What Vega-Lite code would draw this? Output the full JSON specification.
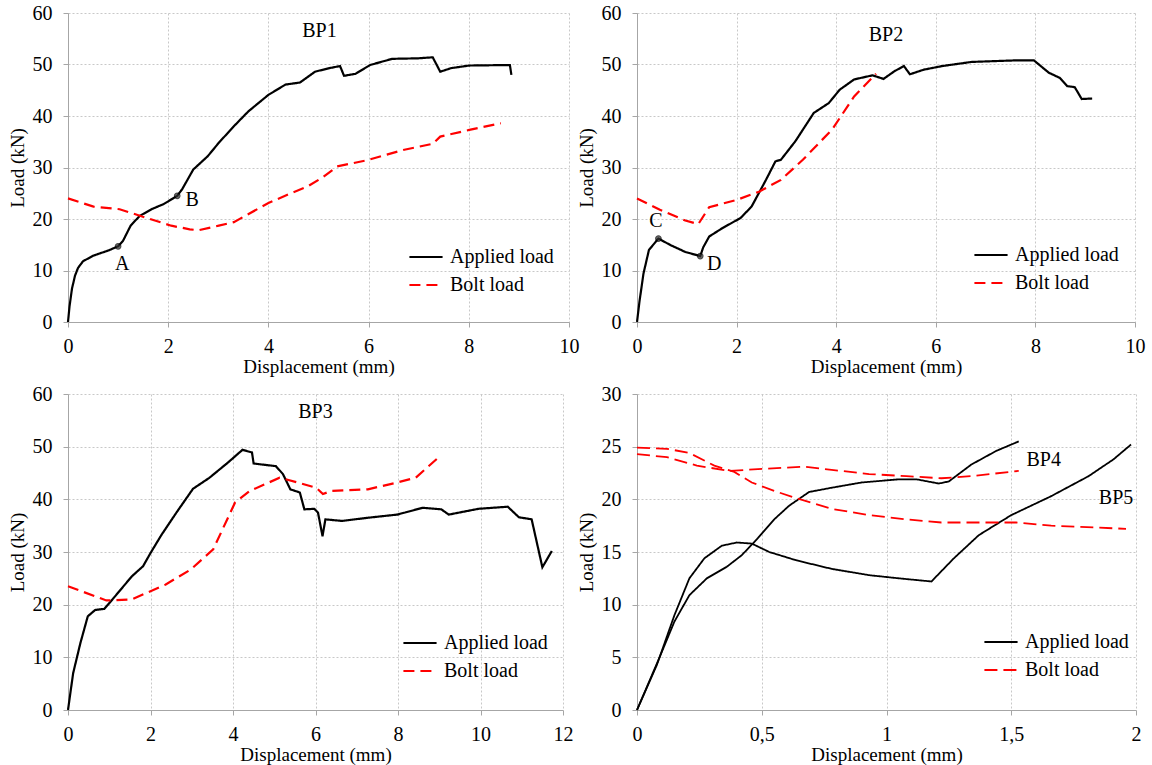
{
  "$schema": "https://vega.github.io/schema/vega-lite/v6.json",
  "background": "white",
  "padding": {"left": 8, "top": 3, "right": 5, "bottom": 3},
  "config": {
    "font": "Liberation Serif",
    "view": {"stroke": null},
    "axis": {
      "labelFont": "Liberation Serif", "labelFontSize": 20, "labelColor": "#000",
      "titleFont": "Liberation Serif", "titleFontSize": 19, "titleFontWeight": "normal", "titleColor": "#000",
      "domainColor": "#a6a6a6", "tickColor": "#a6a6a6", "tickSize": 5, "labelFlush": false,
      "gridColor": "#c8c8c8", "gridDash": [2, 2]
    },
    "axisX": {"titlePadding": 1, "labelPadding": 9},
    "axisY": {"titlePadding": 5, "labelPadding": 11},
    "legend": {
      "labelFont": "Liberation Serif", "labelFontSize": 20, "labelColor": "#000",
      "symbolType": "stroke", "symbolSize": 1100, "symbolStrokeWidth": 2.2, "rowPadding": -2, "labelOffset": 6
    },
    "text": {"font": "Liberation Serif", "color": "#000"}
  },
  "datasets": {
    "bp1": [
      {"s": "Applied load", "x": 0, "y": 0}, {"s": "Applied load", "x": 0.03, "y": 3}, {"s": "Applied load", "x": 0.08, "y": 6.5}, {"s": "Applied load", "x": 0.14, "y": 9}, {"s": "Applied load", "x": 0.2, "y": 10.5}, {"s": "Applied load", "x": 0.3, "y": 11.8}, {"s": "Applied load", "x": 0.51, "y": 12.9}, {"s": "Applied load", "x": 0.81, "y": 13.9}, {"s": "Applied load", "x": 1.0, "y": 14.7}, {"s": "Applied load", "x": 1.1, "y": 15.8}, {"s": "Applied load", "x": 1.25, "y": 18.7}, {"s": "Applied load", "x": 1.43, "y": 20.6}, {"s": "Applied load", "x": 1.69, "y": 22.0}, {"s": "Applied load", "x": 1.91, "y": 22.9}, {"s": "Applied load", "x": 2.18, "y": 24.5}, {"s": "Applied load", "x": 2.28, "y": 25.8}, {"s": "Applied load", "x": 2.5, "y": 29.6}, {"s": "Applied load", "x": 2.79, "y": 32.2}, {"s": "Applied load", "x": 3.01, "y": 34.8}, {"s": "Applied load", "x": 3.31, "y": 38.0}, {"s": "Applied load", "x": 3.6, "y": 40.9}, {"s": "Applied load", "x": 4.0, "y": 44.1}, {"s": "Applied load", "x": 4.34, "y": 46.1}, {"s": "Applied load", "x": 4.63, "y": 46.5}, {"s": "Applied load", "x": 4.93, "y": 48.6}, {"s": "Applied load", "x": 5.22, "y": 49.3}, {"s": "Applied load", "x": 5.43, "y": 49.7}, {"s": "Applied load", "x": 5.51, "y": 47.8}, {"s": "Applied load", "x": 5.74, "y": 48.2}, {"s": "Applied load", "x": 6.03, "y": 49.9}, {"s": "Applied load", "x": 6.47, "y": 51.1}, {"s": "Applied load", "x": 6.99, "y": 51.2}, {"s": "Applied load", "x": 7.28, "y": 51.4}, {"s": "Applied load", "x": 7.43, "y": 48.6}, {"s": "Applied load", "x": 7.65, "y": 49.3}, {"s": "Applied load", "x": 8.01, "y": 49.8}, {"s": "Applied load", "x": 8.82, "y": 49.9}, {"s": "Applied load", "x": 8.85, "y": 48.0},
      {"s": "Bolt load", "x": 0, "y": 24.0}, {"s": "Bolt load", "x": 0.51, "y": 22.4}, {"s": "Bolt load", "x": 1.03, "y": 21.9}, {"s": "Bolt load", "x": 1.54, "y": 20.3}, {"s": "Bolt load", "x": 2.06, "y": 18.7}, {"s": "Bolt load", "x": 2.43, "y": 18.0}, {"s": "Bolt load", "x": 2.6, "y": 17.8}, {"s": "Bolt load", "x": 3.01, "y": 18.7}, {"s": "Bolt load", "x": 3.31, "y": 19.4}, {"s": "Bolt load", "x": 4.0, "y": 23.1}, {"s": "Bolt load", "x": 4.4, "y": 24.8}, {"s": "Bolt load", "x": 4.78, "y": 26.3}, {"s": "Bolt load", "x": 5.1, "y": 28.2}, {"s": "Bolt load", "x": 5.37, "y": 30.2}, {"s": "Bolt load", "x": 5.96, "y": 31.4}, {"s": "Bolt load", "x": 6.69, "y": 33.4}, {"s": "Bolt load", "x": 7.28, "y": 34.6}, {"s": "Bolt load", "x": 7.43, "y": 36.0}, {"s": "Bolt load", "x": 8.01, "y": 37.3}, {"s": "Bolt load", "x": 8.64, "y": 38.6}
    ],
    "bp2": [
      {"s": "Applied load", "x": 0, "y": 0}, {"s": "Applied load", "x": 0.05, "y": 4}, {"s": "Applied load", "x": 0.13, "y": 9.4}, {"s": "Applied load", "x": 0.24, "y": 14.0}, {"s": "Applied load", "x": 0.43, "y": 16.2}, {"s": "Applied load", "x": 0.68, "y": 14.9}, {"s": "Applied load", "x": 0.97, "y": 13.6}, {"s": "Applied load", "x": 1.27, "y": 12.8}, {"s": "Applied load", "x": 1.33, "y": 14.5}, {"s": "Applied load", "x": 1.45, "y": 16.6}, {"s": "Applied load", "x": 1.71, "y": 18.2}, {"s": "Applied load", "x": 2.08, "y": 20.2}, {"s": "Applied load", "x": 2.3, "y": 22.4}, {"s": "Applied load", "x": 2.59, "y": 27.6}, {"s": "Applied load", "x": 2.78, "y": 31.2}, {"s": "Applied load", "x": 2.89, "y": 31.5}, {"s": "Applied load", "x": 3.18, "y": 35.1}, {"s": "Applied load", "x": 3.55, "y": 40.6}, {"s": "Applied load", "x": 3.85, "y": 42.5}, {"s": "Applied load", "x": 4.07, "y": 45.1}, {"s": "Applied load", "x": 4.36, "y": 47.1}, {"s": "Applied load", "x": 4.73, "y": 47.9}, {"s": "Applied load", "x": 4.95, "y": 47.2}, {"s": "Applied load", "x": 5.17, "y": 48.7}, {"s": "Applied load", "x": 5.36, "y": 49.7}, {"s": "Applied load", "x": 5.48, "y": 48.1}, {"s": "Applied load", "x": 5.76, "y": 49.0}, {"s": "Applied load", "x": 6.13, "y": 49.7}, {"s": "Applied load", "x": 6.72, "y": 50.5}, {"s": "Applied load", "x": 7.6, "y": 50.8}, {"s": "Applied load", "x": 7.97, "y": 50.8}, {"s": "Applied load", "x": 8.27, "y": 48.4}, {"s": "Applied load", "x": 8.49, "y": 47.4}, {"s": "Applied load", "x": 8.64, "y": 45.8}, {"s": "Applied load", "x": 8.79, "y": 45.6}, {"s": "Applied load", "x": 8.93, "y": 43.3}, {"s": "Applied load", "x": 9.14, "y": 43.4},
      {"s": "Bolt load", "x": 0, "y": 24.0}, {"s": "Bolt load", "x": 0.46, "y": 21.8}, {"s": "Bolt load", "x": 0.97, "y": 19.7}, {"s": "Bolt load", "x": 1.23, "y": 19.0}, {"s": "Bolt load", "x": 1.45, "y": 22.3}, {"s": "Bolt load", "x": 2.0, "y": 23.7}, {"s": "Bolt load", "x": 2.45, "y": 25.3}, {"s": "Bolt load", "x": 2.89, "y": 27.6}, {"s": "Bolt load", "x": 3.33, "y": 31.5}, {"s": "Bolt load", "x": 3.92, "y": 37.4}, {"s": "Bolt load", "x": 4.36, "y": 43.8}, {"s": "Bolt load", "x": 4.8, "y": 48.2}
    ],
    "bp3": [
      {"s": "Applied load", "x": 0, "y": 0}, {"s": "Applied load", "x": 0.125, "y": 7.0}, {"s": "Applied load", "x": 0.3, "y": 12.7}, {"s": "Applied load", "x": 0.48, "y": 17.8}, {"s": "Applied load", "x": 0.66, "y": 19.0}, {"s": "Applied load", "x": 0.88, "y": 19.2}, {"s": "Applied load", "x": 1.11, "y": 21.3}, {"s": "Applied load", "x": 1.55, "y": 25.4}, {"s": "Applied load", "x": 1.82, "y": 27.3}, {"s": "Applied load", "x": 2.0, "y": 29.8}, {"s": "Applied load", "x": 2.27, "y": 33.3}, {"s": "Applied load", "x": 2.63, "y": 37.5}, {"s": "Applied load", "x": 3.03, "y": 42.0}, {"s": "Applied load", "x": 3.43, "y": 44.1}, {"s": "Applied load", "x": 3.88, "y": 47.0}, {"s": "Applied load", "x": 4.23, "y": 49.4}, {"s": "Applied load", "x": 4.46, "y": 48.9}, {"s": "Applied load", "x": 4.5, "y": 46.8}, {"s": "Applied load", "x": 5.04, "y": 46.3}, {"s": "Applied load", "x": 5.21, "y": 44.8}, {"s": "Applied load", "x": 5.39, "y": 41.9}, {"s": "Applied load", "x": 5.62, "y": 41.3}, {"s": "Applied load", "x": 5.73, "y": 38.1}, {"s": "Applied load", "x": 5.97, "y": 38.2}, {"s": "Applied load", "x": 6.06, "y": 37.5}, {"s": "Applied load", "x": 6.17, "y": 33.0}, {"s": "Applied load", "x": 6.24, "y": 36.2}, {"s": "Applied load", "x": 6.64, "y": 35.9}, {"s": "Applied load", "x": 7.27, "y": 36.5}, {"s": "Applied load", "x": 7.98, "y": 37.1}, {"s": "Applied load", "x": 8.6, "y": 38.4}, {"s": "Applied load", "x": 9.05, "y": 38.1}, {"s": "Applied load", "x": 9.23, "y": 37.1}, {"s": "Applied load", "x": 9.95, "y": 38.2}, {"s": "Applied load", "x": 10.66, "y": 38.6}, {"s": "Applied load", "x": 10.93, "y": 36.6}, {"s": "Applied load", "x": 11.24, "y": 36.2}, {"s": "Applied load", "x": 11.5, "y": 27.1}, {"s": "Applied load", "x": 11.73, "y": 30.2},
      {"s": "Bolt load", "x": 0, "y": 23.5}, {"s": "Bolt load", "x": 0.93, "y": 20.8}, {"s": "Bolt load", "x": 1.55, "y": 21.0}, {"s": "Bolt load", "x": 2.36, "y": 23.8}, {"s": "Bolt load", "x": 2.98, "y": 26.7}, {"s": "Bolt load", "x": 3.52, "y": 30.5}, {"s": "Bolt load", "x": 4.05, "y": 39.4}, {"s": "Bolt load", "x": 4.41, "y": 41.6}, {"s": "Bolt load", "x": 5.13, "y": 44.1}, {"s": "Bolt load", "x": 5.57, "y": 43.2}, {"s": "Bolt load", "x": 6.02, "y": 42.2}, {"s": "Bolt load", "x": 6.18, "y": 41.0}, {"s": "Bolt load", "x": 6.38, "y": 41.6}, {"s": "Bolt load", "x": 7.27, "y": 41.9}, {"s": "Bolt load", "x": 7.98, "y": 43.2}, {"s": "Bolt load", "x": 8.43, "y": 44.1}, {"s": "Bolt load", "x": 9.03, "y": 48.3}
    ],
    "bp45": [
      {"c": "BP4a", "s": "Applied load", "x": 0, "y": 0}, {"c": "BP4a", "s": "Applied load", "x": 0.094, "y": 5.2}, {"c": "BP4a", "s": "Applied load", "x": 0.15, "y": 8.4}, {"c": "BP4a", "s": "Applied load", "x": 0.21, "y": 10.9}, {"c": "BP4a", "s": "Applied load", "x": 0.28, "y": 12.5}, {"c": "BP4a", "s": "Applied load", "x": 0.36, "y": 13.6}, {"c": "BP4a", "s": "Applied load", "x": 0.42, "y": 14.7}, {"c": "BP4a", "s": "Applied load", "x": 0.48, "y": 16.2}, {"c": "BP4a", "s": "Applied load", "x": 0.55, "y": 18.1}, {"c": "BP4a", "s": "Applied load", "x": 0.61, "y": 19.4}, {"c": "BP4a", "s": "Applied load", "x": 0.69, "y": 20.7}, {"c": "BP4a", "s": "Applied load", "x": 0.78, "y": 21.1}, {"c": "BP4a", "s": "Applied load", "x": 0.9, "y": 21.6}, {"c": "BP4a", "s": "Applied load", "x": 1.05, "y": 21.9}, {"c": "BP4a", "s": "Applied load", "x": 1.12, "y": 21.9}, {"c": "BP4a", "s": "Applied load", "x": 1.21, "y": 21.5}, {"c": "BP4a", "s": "Applied load", "x": 1.25, "y": 21.7}, {"c": "BP4a", "s": "Applied load", "x": 1.34, "y": 23.3}, {"c": "BP4a", "s": "Applied load", "x": 1.44, "y": 24.6}, {"c": "BP4a", "s": "Applied load", "x": 1.53, "y": 25.5},
      {"c": "BP5a", "s": "Applied load", "x": 0, "y": 0}, {"c": "BP5a", "s": "Applied load", "x": 0.08, "y": 4.3}, {"c": "BP5a", "s": "Applied load", "x": 0.15, "y": 9.0}, {"c": "BP5a", "s": "Applied load", "x": 0.21, "y": 12.5}, {"c": "BP5a", "s": "Applied load", "x": 0.27, "y": 14.4}, {"c": "BP5a", "s": "Applied load", "x": 0.34, "y": 15.6}, {"c": "BP5a", "s": "Applied load", "x": 0.4, "y": 15.9}, {"c": "BP5a", "s": "Applied load", "x": 0.46, "y": 15.8}, {"c": "BP5a", "s": "Applied load", "x": 0.53, "y": 15.0}, {"c": "BP5a", "s": "Applied load", "x": 0.64, "y": 14.2}, {"c": "BP5a", "s": "Applied load", "x": 0.78, "y": 13.4}, {"c": "BP5a", "s": "Applied load", "x": 0.93, "y": 12.8}, {"c": "BP5a", "s": "Applied load", "x": 1.05, "y": 12.5}, {"c": "BP5a", "s": "Applied load", "x": 1.18, "y": 12.2}, {"c": "BP5a", "s": "Applied load", "x": 1.27, "y": 14.4}, {"c": "BP5a", "s": "Applied load", "x": 1.37, "y": 16.6}, {"c": "BP5a", "s": "Applied load", "x": 1.5, "y": 18.5}, {"c": "BP5a", "s": "Applied load", "x": 1.66, "y": 20.3}, {"c": "BP5a", "s": "Applied load", "x": 1.81, "y": 22.2}, {"c": "BP5a", "s": "Applied load", "x": 1.91, "y": 23.8}, {"c": "BP5a", "s": "Applied load", "x": 1.98, "y": 25.2},
      {"c": "BP5b", "s": "Bolt load", "x": 0, "y": 24.9}, {"c": "BP5b", "s": "Bolt load", "x": 0.12, "y": 24.8}, {"c": "BP5b", "s": "Bolt load", "x": 0.21, "y": 24.4}, {"c": "BP5b", "s": "Bolt load", "x": 0.31, "y": 23.2}, {"c": "BP5b", "s": "Bolt load", "x": 0.39, "y": 22.6}, {"c": "BP5b", "s": "Bolt load", "x": 0.46, "y": 21.6}, {"c": "BP5b", "s": "Bolt load", "x": 0.55, "y": 20.8}, {"c": "BP5b", "s": "Bolt load", "x": 0.64, "y": 20.1}, {"c": "BP5b", "s": "Bolt load", "x": 0.78, "y": 19.1}, {"c": "BP5b", "s": "Bolt load", "x": 0.93, "y": 18.5}, {"c": "BP5b", "s": "Bolt load", "x": 1.08, "y": 18.1}, {"c": "BP5b", "s": "Bolt load", "x": 1.22, "y": 17.8}, {"c": "BP5b", "s": "Bolt load", "x": 1.37, "y": 17.8}, {"c": "BP5b", "s": "Bolt load", "x": 1.52, "y": 17.8}, {"c": "BP5b", "s": "Bolt load", "x": 1.66, "y": 17.5}, {"c": "BP5b", "s": "Bolt load", "x": 1.96, "y": 17.2},
      {"c": "BP4b", "s": "Bolt load", "x": 0, "y": 24.3}, {"c": "BP4b", "s": "Bolt load", "x": 0.12, "y": 24.0}, {"c": "BP4b", "s": "Bolt load", "x": 0.24, "y": 23.2}, {"c": "BP4b", "s": "Bolt load", "x": 0.37, "y": 22.7}, {"c": "BP4b", "s": "Bolt load", "x": 0.51, "y": 22.9}, {"c": "BP4b", "s": "Bolt load", "x": 0.67, "y": 23.1}, {"c": "BP4b", "s": "Bolt load", "x": 0.78, "y": 22.8}, {"c": "BP4b", "s": "Bolt load", "x": 0.93, "y": 22.4}, {"c": "BP4b", "s": "Bolt load", "x": 1.08, "y": 22.2}, {"c": "BP4b", "s": "Bolt load", "x": 1.22, "y": 22.0}, {"c": "BP4b", "s": "Bolt load", "x": 1.34, "y": 22.2}, {"c": "BP4b", "s": "Bolt load", "x": 1.53, "y": 22.7}
    ],
    "marks12": [
      {"p": "BP1", "x": 1.0, "y": 14.7, "t": "A", "tx": 1.08, "ty": 11.3},
      {"p": "BP1", "x": 2.18, "y": 24.5, "t": "B", "tx": 2.48, "ty": 23.7},
      {"p": "BP2", "x": 0.43, "y": 16.2, "t": "C", "tx": 0.38, "ty": 19.6},
      {"p": "BP2", "x": 1.27, "y": 12.8, "t": "D", "tx": 1.55, "ty": 11.3}
    ],
    "titles": [
      {"p": "BP1", "x": 5.02, "y": 56.6, "t": "BP1"},
      {"p": "BP2", "x": 5.0, "y": 55.7, "t": "BP2"},
      {"p": "BP3", "x": 6.0, "y": 56.5, "t": "BP3"},
      {"p": "BP4", "x": 1.63, "y": 23.7, "t": "BP4"},
      {"p": "BP4", "x": 1.92, "y": 20.1, "t": "BP5"}
    ]
  },
  "columns": 2,
  "bounds": "flush",
  "spacing": {"row": 72, "column": 68},
  "resolve": {
    "scale": {"color": "independent", "strokeDash": "independent"},
    "legend": {"color": "independent", "strokeDash": "independent"}
  },
  "concat": [
    {
      "width": 501, "height": 309,
      "layer": [
        {
          "data": {"name": "bp1"},
          "mark": {"type": "line", "strokeWidth": 2.2},
          "encoding": {
            "x": {"field": "x", "type": "quantitative", "scale": {"domain": [0, 10], "nice": false}, "axis": {"values": [0, 2, 4, 6, 8, 10], "title": "Displacement (mm)"}},
            "y": {"field": "y", "type": "quantitative", "scale": {"domain": [0, 60], "nice": false}, "axis": {"values": [0, 10, 20, 30, 40, 50, 60], "title": "Load (kN)"}},
            "color": {"field": "s", "type": "nominal", "scale": {"domain": ["Applied load", "Bolt load"], "range": ["#000000", "#ff0000"]}, "legend": {"title": null, "orient": "none", "legendX": 340, "legendY": 226}},
            "strokeDash": {"field": "s", "type": "nominal", "scale": {"domain": ["Applied load", "Bolt load"], "range": [[1, 0], [11, 6]]}, "legend": {"title": null, "orient": "none", "legendX": 340, "legendY": 226}}
          }
        },
        {
          "data": {"name": "marks12"}, "transform": [{"filter": "datum.p == 'BP1'"}],
          "mark": {"type": "point", "shape": "circle", "size": 30, "filled": true, "color": "#333", "stroke": "#000", "strokeWidth": 1.2},
          "encoding": {"x": {"field": "x", "type": "quantitative"}, "y": {"field": "y", "type": "quantitative"}}
        },
        {
          "data": {"name": "marks12"}, "transform": [{"filter": "datum.p == 'BP1'"}],
          "mark": {"type": "text", "fontSize": 20, "align": "center", "baseline": "middle"},
          "encoding": {"x": {"field": "tx", "type": "quantitative"}, "y": {"field": "ty", "type": "quantitative"}, "text": {"field": "t"}}
        },
        {
          "data": {"name": "titles"}, "transform": [{"filter": "datum.p == 'BP1'"}],
          "mark": {"type": "text", "fontSize": 20, "align": "center", "baseline": "middle"},
          "encoding": {"x": {"field": "x", "type": "quantitative"}, "y": {"field": "y", "type": "quantitative"}, "text": {"field": "t"}}
        }
      ]
    },
    {
      "width": 498, "height": 309,
      "layer": [
        {
          "data": {"name": "bp2"},
          "mark": {"type": "line", "strokeWidth": 2.2},
          "encoding": {
            "x": {"field": "x", "type": "quantitative", "scale": {"domain": [0, 10], "nice": false}, "axis": {"values": [0, 2, 4, 6, 8, 10], "title": "Displacement (mm)"}},
            "y": {"field": "y", "type": "quantitative", "scale": {"domain": [0, 60], "nice": false}, "axis": {"values": [0, 10, 20, 30, 40, 50, 60], "title": "Load (kN)"}},
            "color": {"field": "s", "type": "nominal", "scale": {"domain": ["Applied load", "Bolt load"], "range": ["#000000", "#ff0000"]}, "legend": {"title": null, "orient": "none", "legendX": 336, "legendY": 224}},
            "strokeDash": {"field": "s", "type": "nominal", "scale": {"domain": ["Applied load", "Bolt load"], "range": [[1, 0], [11, 6]]}, "legend": {"title": null, "orient": "none", "legendX": 336, "legendY": 224}}
          }
        },
        {
          "data": {"name": "marks12"}, "transform": [{"filter": "datum.p == 'BP2'"}],
          "mark": {"type": "point", "shape": "circle", "size": 30, "filled": true, "color": "#333", "stroke": "#000", "strokeWidth": 1.2},
          "encoding": {"x": {"field": "x", "type": "quantitative"}, "y": {"field": "y", "type": "quantitative"}}
        },
        {
          "data": {"name": "marks12"}, "transform": [{"filter": "datum.p == 'BP2'"}],
          "mark": {"type": "text", "fontSize": 20, "align": "center", "baseline": "middle"},
          "encoding": {"x": {"field": "tx", "type": "quantitative"}, "y": {"field": "ty", "type": "quantitative"}, "text": {"field": "t"}}
        },
        {
          "data": {"name": "titles"}, "transform": [{"filter": "datum.p == 'BP2'"}],
          "mark": {"type": "text", "fontSize": 20, "align": "center", "baseline": "middle"},
          "encoding": {"x": {"field": "x", "type": "quantitative"}, "y": {"field": "y", "type": "quantitative"}, "text": {"field": "t"}}
        }
      ]
    },
    {
      "width": 495, "height": 316,
      "layer": [
        {
          "data": {"name": "bp3"},
          "mark": {"type": "line", "strokeWidth": 2.2},
          "encoding": {
            "x": {"field": "x", "type": "quantitative", "scale": {"domain": [0, 12], "nice": false}, "axis": {"values": [0, 2, 4, 6, 8, 10, 12], "title": "Displacement (mm)"}},
            "y": {"field": "y", "type": "quantitative", "scale": {"domain": [0, 60], "nice": false}, "axis": {"values": [0, 10, 20, 30, 40, 50, 60], "title": "Load (kN)"}},
            "color": {"field": "s", "type": "nominal", "scale": {"domain": ["Applied load", "Bolt load"], "range": ["#000000", "#ff0000"]}, "legend": {"title": null, "orient": "none", "legendX": 334, "legendY": 231, "rowPadding": 0}},
            "strokeDash": {"field": "s", "type": "nominal", "scale": {"domain": ["Applied load", "Bolt load"], "range": [[1, 0], [11, 6]]}, "legend": {"title": null, "orient": "none", "legendX": 334, "legendY": 231, "rowPadding": 0}}
          }
        },
        {
          "data": {"name": "titles"}, "transform": [{"filter": "datum.p == 'BP3'"}],
          "mark": {"type": "text", "fontSize": 20, "align": "center", "baseline": "middle"},
          "encoding": {"x": {"field": "x", "type": "quantitative"}, "y": {"field": "y", "type": "quantitative"}, "text": {"field": "t"}}
        }
      ]
    },
    {
      "width": 499, "height": 316,
      "layer": [
        {
          "data": {"name": "bp45"},
          "mark": {"type": "line", "strokeWidth": 1.8},
          "encoding": {
            "x": {"field": "x", "type": "quantitative", "scale": {"domain": [0, 2], "nice": false}, "axis": {"values": [0, 0.5, 1, 1.5, 2], "labelExpr": "replace(format(datum.value, '~g'), '.', ',')", "title": "Displacement (mm)"}},
            "y": {"field": "y", "type": "quantitative", "scale": {"domain": [0, 30], "nice": false}, "axis": {"values": [0, 5, 10, 15, 20, 25, 30], "title": "Load (kN)"}},
            "detail": {"field": "c"},
            "color": {"field": "s", "type": "nominal", "scale": {"domain": ["Applied load", "Bolt load"], "range": ["#000000", "#ff0000"]}, "legend": {"title": null, "orient": "none", "legendX": 346, "legendY": 230}},
            "strokeDash": {"field": "s", "type": "nominal", "scale": {"domain": ["Applied load", "Bolt load"], "range": [[1, 0], [13, 6]]}, "legend": {"title": null, "orient": "none", "legendX": 346, "legendY": 230}},
            "strokeWidth": {"field": "s", "type": "nominal", "scale": {"domain": ["Applied load", "Bolt load"], "range": [1.8, 2.8]}, "legend": null}
          }
        },
        {
          "data": {"name": "titles"}, "transform": [{"filter": "datum.p == 'BP4'"}],
          "mark": {"type": "text", "fontSize": 20, "align": "center", "baseline": "middle"},
          "encoding": {"x": {"field": "x", "type": "quantitative"}, "y": {"field": "y", "type": "quantitative"}, "text": {"field": "t"}}
        }
      ]
    }
  ]
}
